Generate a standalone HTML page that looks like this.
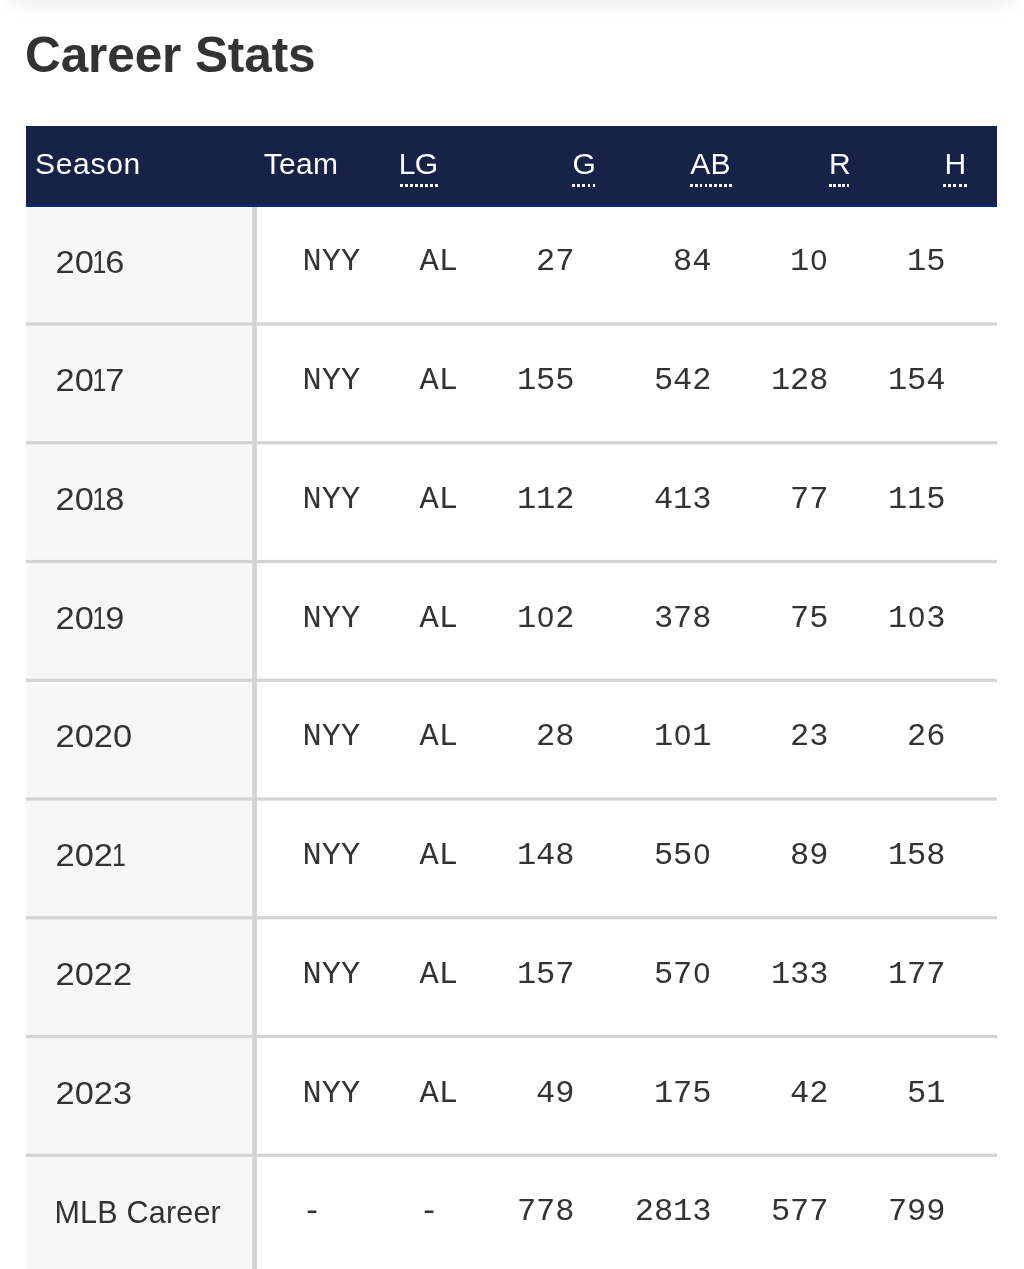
<!DOCTYPE html>
<html><head><meta charset="utf-8">
<style>
html,body{margin:0;padding:0;background:#fff;}
body{width:1024px;height:1269px;overflow:hidden;position:relative;font-family:"Liberation Sans",sans-serif;color:#333;}
.topshadow{position:absolute;left:12px;top:-30px;width:1000px;height:30px;box-shadow:0 0 22px rgba(0,0,0,0.11);}
h1{position:absolute;left:25px;top:27px;margin:0;font-size:49.5px;line-height:56px;font-weight:bold;color:#333;letter-spacing:-0.1px;white-space:nowrap;}
.thead{position:absolute;left:26px;top:126px;width:971px;height:81px;background:#172346;border-bottom:3px solid #062b6e;box-sizing:border-box;}
.thead span{position:absolute;top:0;line-height:75px;font-size:30px;letter-spacing:0.3px;color:#fff;white-space:nowrap;}
.thead i{position:absolute;top:58px;height:3px;background:repeating-linear-gradient(90deg,#fff 0,#fff 2.8px,transparent 2.8px,transparent var(--p));}
.col1{position:absolute;left:26px;top:208px;width:227px;height:1063px;background:#f7f7f7;}
svg.grid{position:absolute;left:0;top:0;}
.row{position:absolute;left:26px;top:0;width:971px;height:116px;}
.row .s{position:absolute;left:29px;top:0;line-height:113px;font-size:30.5px;letter-spacing:0.2px;color:#333;white-space:nowrap;}
.row .y{left:29.5px;letter-spacing:0;font-size:30px;line-height:112px;transform:scale(1.147,1.02);transform-origin:0 50%;}
.row .y .n{display:inline-block;transform:scaleX(0.72);margin:0 -3.6px 0 -3px;}
.row .m{position:absolute;top:0;line-height:111px;font-size:32px;font-family:"Liberation Mono",monospace;color:#333;white-space:nowrap;text-align:right;}
.z{display:inline-block;width:19.2px;text-align:center;font-family:"Liberation Sans",sans-serif;font-size:30px;line-height:1;}
</style></head><body>
<div class="topshadow"></div>
<h1>Career Stats</h1>
<div class="col1"></div>
<svg class="grid" width="1024" height="1269" viewBox="0 0 1024 1269" fill="#d3d3d3">
<rect x="252.2" y="207" width="4.7" height="1062"/>
<rect x="26" y="322.40" width="971" height="3.2"/>
<rect x="26" y="441.15" width="971" height="3.2"/>
<rect x="26" y="559.90" width="971" height="3.2"/>
<rect x="26" y="678.65" width="971" height="3.2"/>
<rect x="26" y="797.40" width="971" height="3.2"/>
<rect x="26" y="916.15" width="971" height="3.2"/>
<rect x="26" y="1034.90" width="971" height="3.2"/>
<rect x="26" y="1153.65" width="971" height="3.2"/>
</svg>
<div class="thead">
<span style="left:9px;letter-spacing:0.7px">Season</span>
<span style="left:237.8px">Team</span>
<span style="left:372.7px;letter-spacing:-0.5px">LG</span><i style="left:374px;width:38px;--p:5.03px"></i>
<span style="left:546.5px">G</span><i style="left:546px;width:23.5px;--p:5.17px"></i>
<span style="left:664.3px">AB</span><i style="left:664px;width:41.5px;--p:4.84px"></i>
<span style="left:803px">R</span><i style="left:802.9px;width:20.5px;--p:4.43px"></i>
<span style="left:918.5px">H</span><i style="left:917px;width:23.75px;--p:5.24px"></i>
</div>
<div id="rows">
<div class="row" style="transform:translate(-0.5px,206.30px)"><span class="s y">20<span class="n">1</span>6</span><span class="m" style="left:277px">NYY</span><span class="m" style="left:394px">AL</span><span class="m" style="right:422px">27</span><span class="m" style="right:285px">84</span><span class="m" style="right:168px">1<span class="z">0</span></span><span class="m" style="right:51px">15</span></div>
<div class="row" style="transform:translate(-0.5px,325.05px)"><span class="s y">20<span class="n">1</span>7</span><span class="m" style="left:277px">NYY</span><span class="m" style="left:394px">AL</span><span class="m" style="right:422px">155</span><span class="m" style="right:285px">542</span><span class="m" style="right:168px">128</span><span class="m" style="right:51px">154</span></div>
<div class="row" style="transform:translate(-0.5px,443.80px)"><span class="s y">20<span class="n">1</span>8</span><span class="m" style="left:277px">NYY</span><span class="m" style="left:394px">AL</span><span class="m" style="right:422px">112</span><span class="m" style="right:285px">413</span><span class="m" style="right:168px">77</span><span class="m" style="right:51px">115</span></div>
<div class="row" style="transform:translate(-0.5px,562.55px)"><span class="s y">20<span class="n">1</span>9</span><span class="m" style="left:277px">NYY</span><span class="m" style="left:394px">AL</span><span class="m" style="right:422px">1<span class="z">0</span>2</span><span class="m" style="right:285px">378</span><span class="m" style="right:168px">75</span><span class="m" style="right:51px">1<span class="z">0</span>3</span></div>
<div class="row" style="transform:translate(-0.5px,681.30px)"><span class="s y">2020</span><span class="m" style="left:277px">NYY</span><span class="m" style="left:394px">AL</span><span class="m" style="right:422px">28</span><span class="m" style="right:285px">1<span class="z">0</span>1</span><span class="m" style="right:168px">23</span><span class="m" style="right:51px">26</span></div>
<div class="row" style="transform:translate(-0.5px,800.05px)"><span class="s y">202<span class="n">1</span></span><span class="m" style="left:277px">NYY</span><span class="m" style="left:394px">AL</span><span class="m" style="right:422px">148</span><span class="m" style="right:285px">55<span class="z">0</span></span><span class="m" style="right:168px">89</span><span class="m" style="right:51px">158</span></div>
<div class="row" style="transform:translate(-0.5px,918.80px)"><span class="s y">2022</span><span class="m" style="left:277px">NYY</span><span class="m" style="left:394px">AL</span><span class="m" style="right:422px">157</span><span class="m" style="right:285px">57<span class="z">0</span></span><span class="m" style="right:168px">133</span><span class="m" style="right:51px">177</span></div>
<div class="row" style="transform:translate(-0.5px,1037.55px)"><span class="s y">2023</span><span class="m" style="left:277px">NYY</span><span class="m" style="left:394px">AL</span><span class="m" style="right:422px">49</span><span class="m" style="right:285px">175</span><span class="m" style="right:168px">42</span><span class="m" style="right:51px">51</span></div>
<div class="row" style="transform:translate(-0.5px,1156.30px)"><span class="s">MLB Career</span><span class="m" style="left:277px">-</span><span class="m" style="left:394px">-</span><span class="m" style="right:422px">778</span><span class="m" style="right:285px">2813</span><span class="m" style="right:168px">577</span><span class="m" style="right:51px">799</span></div>
</div>
</body></html>
